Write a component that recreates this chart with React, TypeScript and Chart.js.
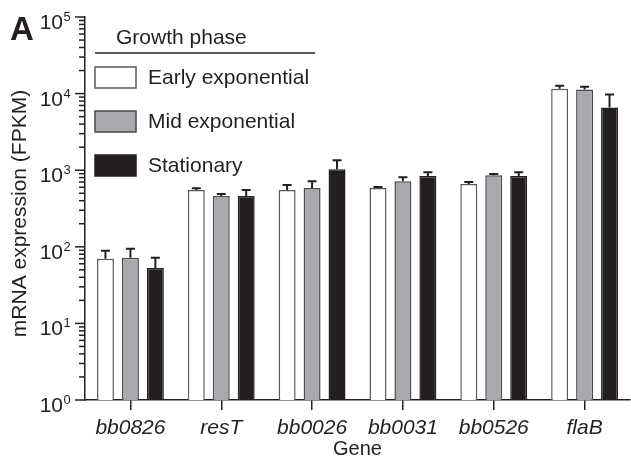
import React, { useEffect, useRef } from 'react';
import { Chart, registerables } from 'chart.js';
Chart.register(...registerables);

const genes = ['bb0826', 'resT', 'bb0026', 'bb0031', 'bb0526', 'flaB'];
const seriesNames = ['Early exponential', 'Mid exponential', 'Stationary'];
const early = [70, 550, 550, 585, 660, 11600];
const earlyErr = [89, 583, 640, 605, 700, 12700];
const mid = [72, 460, 585, 720, 860, 11300];
const midErr = [94, 490, 720, 810, 890, 12300];
const stationary = [53, 460, 1030, 840, 840, 6600];
const stationaryErr = [72, 550, 1350, 940, 940, 9700];
const yTickExponents = [0, 1, 2, 3, 4, 5];
const legendTitle = 'Growth phase';
const yTitle = 'mRNA expression (FPKM)';
const xTitle = 'Gene';
const panelLabel = 'A';

const INK = '#231f20';
const FONT = 'Arial, "Liberation Sans", sans-serif';
const fills = ['#ffffff', '#a7a9ac', '#231f20'];
const borders = ['#5a5a5c', '#4a4a4c', '#231f20'];
const errTops = [earlyErr, midErr, stationaryErr];

const decorPlugin = {
  id: 'decor',
  afterDatasetsDraw(chart: any) {
    const ctx = chart.ctx;
    const y = chart.scales.y;
    ctx.save();
    ctx.strokeStyle = INK;
    ctx.lineWidth = 2;
    chart.data.datasets.forEach((ds: any, di: number) => {
      const meta = chart.getDatasetMeta(di);
      meta.data.forEach((bar: any, i: number) => {
        const top = y.getPixelForValue(errTops[di][i]);
        const x = bar.x;
        ctx.beginPath();
        ctx.moveTo(x, bar.y);
        ctx.lineTo(x, top);
        ctx.moveTo(x - 4.5, top);
        ctx.lineTo(x + 4.5, top);
        ctx.stroke();
      });
    });
    ctx.restore();
  },
  afterDraw(chart: any) {
    const ctx = chart.ctx;
    const y = chart.scales.y;
    const area = chart.chartArea;
    const left = area.left;
    ctx.save();
    ctx.strokeStyle = INK;
    ctx.fillStyle = INK;
    ctx.lineWidth = 1.5;
    yTickExponents.forEach((e) => {
      const py = y.getPixelForValue(Math.pow(10, e));
      ctx.beginPath();
      ctx.moveTo(left - 10, py);
      ctx.lineTo(left, py);
      ctx.stroke();
      if (e < 5) {
        for (let m = 2; m <= 9; m++) {
          const pm = y.getPixelForValue(m * Math.pow(10, e));
          ctx.beginPath();
          ctx.moveTo(left - 6, pm);
          ctx.lineTo(left, pm);
          ctx.stroke();
        }
      }
      ctx.font = `21px ${FONT}`;
      ctx.textAlign = 'right';
      ctx.textBaseline = 'alphabetic';
      ctx.fillText('10', 63, py + 12);
      ctx.font = `13px ${FONT}`;
      ctx.textAlign = 'left';
      ctx.fillText(String(e), 63.5, py + 4);
    });
    // y title
    ctx.save();
    ctx.translate(20, (area.top + area.bottom) / 2 + 5);
    ctx.rotate(-Math.PI / 2);
    ctx.font = `21px ${FONT}`;
    ctx.textAlign = 'center';
    ctx.textBaseline = 'middle';
    ctx.fillText(yTitle, 0, 0);
    ctx.restore();
    // x title
    ctx.font = `20px ${FONT}`;
    ctx.textAlign = 'center';
    ctx.textBaseline = 'alphabetic';
    ctx.fillText(xTitle, (area.left + area.right) / 2, 455);
    // panel label
    ctx.font = `bold 33px ${FONT}`;
    ctx.textAlign = 'left';
    ctx.fillText(panelLabel, 10, 40);
    // legend
    ctx.font = `21px ${FONT}`;
    ctx.textBaseline = 'middle';
    ctx.fillText(legendTitle, 116, 38);
    ctx.beginPath();
    ctx.moveTo(95, 53);
    ctx.lineTo(315, 53);
    ctx.stroke();
    seriesNames.forEach((name, i) => {
      const by = 67 + i * 44;
      ctx.fillStyle = fills[i];
      ctx.fillRect(95, by, 41, 21);
      ctx.strokeStyle = borders[i];
      ctx.lineWidth = 1.5;
      ctx.strokeRect(95, by, 41, 21);
      ctx.fillStyle = INK;
      ctx.fillText(name, 148, by + 11);
    });
    ctx.restore();
  },
};

export default function App() {
  const ref = useRef<HTMLCanvasElement | null>(null);
  useEffect(() => {
    if (!ref.current) return;
    const datasets = [early, mid, stationary].map((d, i) => ({
      label: seriesNames[i],
      data: d,
      backgroundColor: fills[i],
      borderColor: borders[i],
      borderWidth: 1.5,
      barPercentage: 0.68,
      categoryPercentage: 0.824,
    }));
    const chart = new Chart(ref.current, {
      type: 'bar',
      data: { labels: genes, datasets },
      plugins: [decorPlugin],
      options: {
        responsive: false,
        animation: false,
        devicePixelRatio: 1,
        layout: { padding: { left: 85, top: 17, right: 1, bottom: 12.8 } },
        plugins: { legend: { display: false }, tooltip: { enabled: false } },
        scales: {
          x: {
            offset: true,
            grid: {
              display: true,
              drawOnChartArea: false,
              drawTicks: true,
              tickLength: 10,
              offset: false,
              color: INK,
              lineWidth: 1.5,
            },
            border: { display: true, color: INK, width: 1.5 },
            ticks: {
              color: INK,
              padding: 6,
              font: { family: FONT, size: 21, style: 'italic' },
              maxRotation: 0,
              autoSkip: false,
            },
            title: { display: false },
          },
          y: {
            type: 'logarithmic',
            min: 1,
            max: 100000,
            grid: { display: false, drawTicks: false },
            border: { display: true, color: INK, width: 1.5 },
            ticks: { display: false },
          },
        },
      },
    } as any);
    return () => chart.destroy();
  }, []);
  return (
    <div style={{ position: 'absolute', left: 0, top: 0, width: 631, height: 460, background: '#fff' }}>
      <canvas ref={ref} width={631} height={460} style={{ display: 'block' }} />
    </div>
  );
}
